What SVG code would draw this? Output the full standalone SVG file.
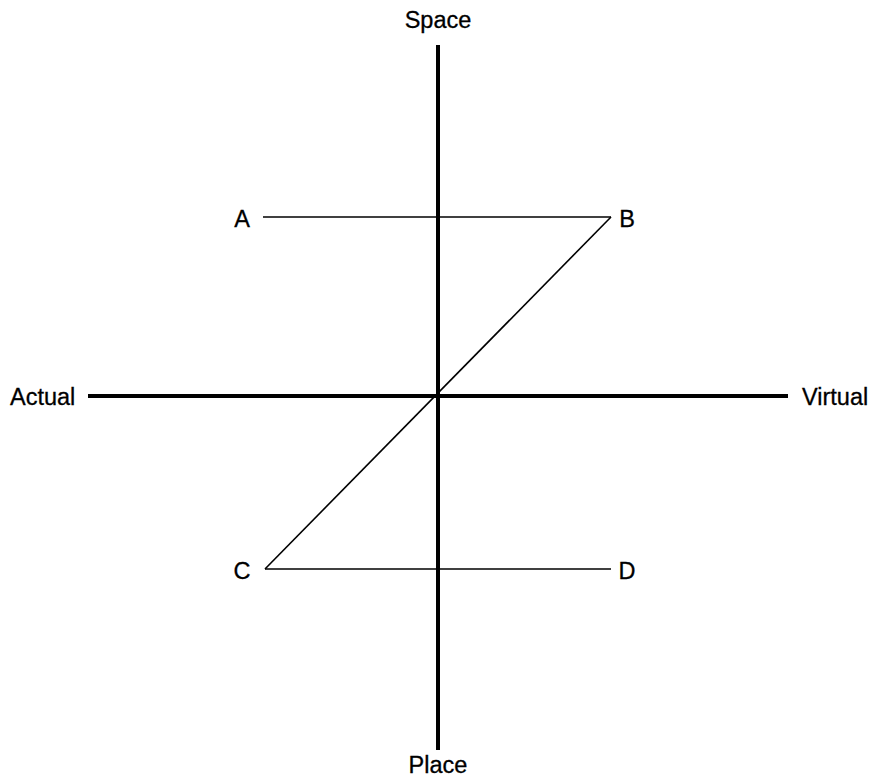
<svg xmlns="http://www.w3.org/2000/svg" width="874" height="777" viewBox="0 0 874 777">
<style>
.axis{stroke:#000;stroke-width:4;fill:none}
.thin{stroke:#000;stroke-width:1.6;fill:none}
text{font-family:"Liberation Sans",Arial,sans-serif;font-size:23.5px;fill:#000;stroke:#000;stroke-width:0.3}
</style>
<rect width="874" height="777" fill="#fff"/>
<g id="connectors">
<line class="axis" x1="438" y1="45" x2="438" y2="750"/>
<line class="axis" x1="88" y1="396" x2="788" y2="396"/>
<line class="thin" x1="263" y1="217" x2="611" y2="217"/>
<line class="thin" x1="265" y1="569" x2="611" y2="569"/>
<polyline class="thin" points="611,217 265,569"/>
</g>
<g id="space"><text x="438" y="28" text-anchor="middle">Space</text></g>
<g id="place"><text x="438" y="773" text-anchor="middle">Place</text></g>
<g id="actual"><text x="10" y="405">Actual</text></g>
<g id="virtual"><text x="802" y="405">Virtual</text></g>
<g id="A"><text x="242" y="227" text-anchor="middle">A</text></g>
<g id="B"><text x="627" y="227" text-anchor="middle">B</text></g>
<g id="C"><text x="242" y="579" text-anchor="middle">C</text></g>
<g id="D"><text x="627" y="579" text-anchor="middle">D</text></g>
</svg>
